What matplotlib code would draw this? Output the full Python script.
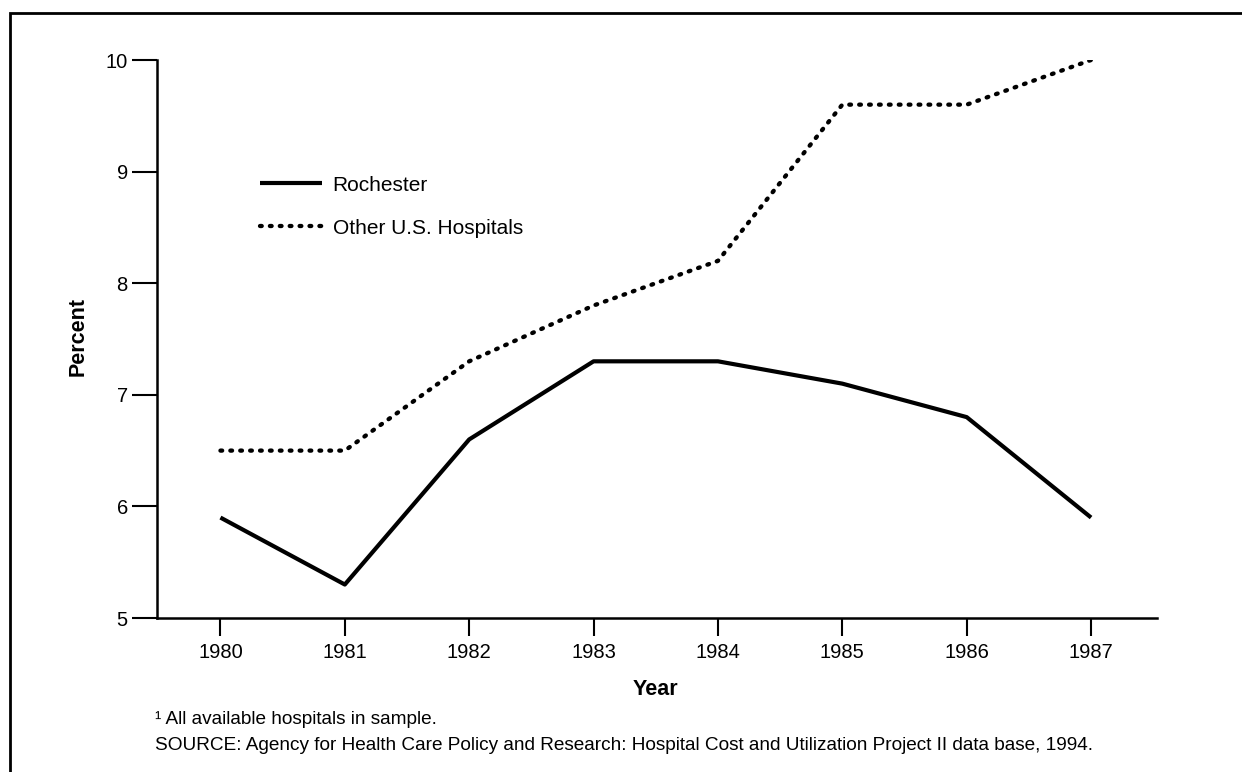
import matplotlib.pyplot as plt
from matplotlib.patches import Rectangle

plt.rcParams['font.family'] = ['Liberation Sans', 'DejaVu Sans']

years = [1980, 1981, 1982, 1983, 1984, 1985, 1986, 1987]
rochester = [5.9, 5.3, 6.6, 7.3, 7.3, 7.1, 6.8, 5.9]
other_us = [6.5, 6.5, 7.3, 7.8, 8.2, 9.6, 9.6, 10.0]
yticks = [5, 6, 7, 8, 9, 10]

fig = plt.figure(figsize=(12.42, 7.72), dpi=100)
ax = fig.add_axes([157/1242, 1 - 618/772, 1000/1242, 558/772])

ax.plot(years, rochester, color='black', lw=3.0, solid_capstyle='butt',
        label='Rochester')
ax.plot(years, other_us, color='black', lw=3.1, linestyle=(0, (0.4, 1.9)),
        dash_capstyle='round', label='Other U.S. Hospitals')

ax.set_xlim(1979.49, 1987.53)
ax.set_ylim(5, 10)
ax.set_xticks(years)
ax.set_yticks(yticks)
ax.tick_params(axis='both', direction='out', width=1.5,
               labelsize=14.5, colors='black')
ax.tick_params(axis='y', length=18, pad=3)
ax.tick_params(axis='x', length=13, pad=5)
for s in ['top', 'right']:
    ax.spines[s].set_visible(False)
for s in ['left', 'bottom']:
    ax.spines[s].set_linewidth(1.8)

ax.set_xlabel('Year', fontsize=15.5, fontweight='bold')
ax.set_ylabel('Percent', fontsize=15.5, fontweight='bold')
ax.xaxis.set_label_coords(0.498, -0.11)
ax.yaxis.set_label_coords(-0.068, 0.505)

leg = ax.legend(loc='upper left', bbox_to_anchor=(84/1000, 1 - 97/558),
                frameon=False, fontsize=15, handlelength=3.0,
                handletextpad=0.5, labelspacing=1.15)

fig.text(155/1242, 1 - 719/772, '\u00b9 All available hospitals in sample.',
         fontsize=13.7, va='center')
fig.text(155/1242, 1 - 746/772,
         'SOURCE: Agency for Health Care Policy and Research: Hospital Cost and '
         'Utilization Project II data base, 1994.', fontsize=13.7, va='center')

fig.patches.append(Rectangle((10/1242, -0.01), 1.0, 1 - 13/772 + 0.01,
                             transform=fig.transFigure, fill=False,
                             lw=2, edgecolor='black'))

fig.savefig('out.png', dpi=100)
